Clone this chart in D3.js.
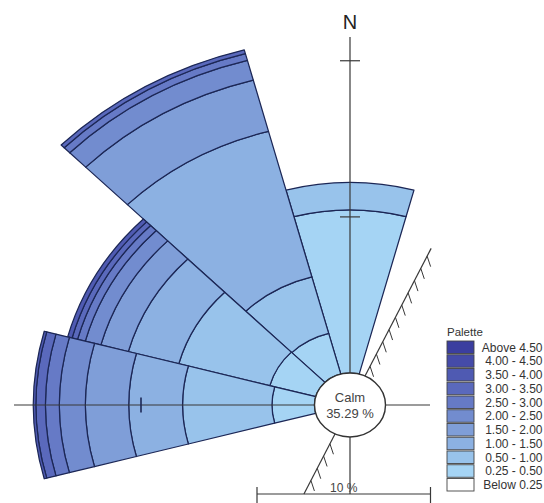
<!DOCTYPE html>
<html>
<head>
<meta charset="utf-8">
<script src="https://cdn.jsdelivr.net/npm/d3@7"></script>
<style>
  body { margin: 0; background: #fff; }
  svg { display: block; }
  text { font-family: "Liberation Sans", Arial, sans-serif; }
</style>
</head>
<body>
<script>
// speed classes, lowest first (m/s)
var speedClasses = ["0.25 - 0.50", "0.50 - 1.00", "1.00 - 1.50", "1.50 - 2.00", "2.00 - 2.50",
                    "2.50 - 3.00", "3.00 - 3.50", "3.50 - 4.00", "4.00 - 4.50", "Above 4.50"];
var classColors = ["#a5d4f4", "#98c3eb", "#8cb1e2", "#7f9ed8", "#728ccf",
                   "#667ac6", "#5a69bc", "#4f5ab2", "#454ba9", "#3b3e9f"];

// sector centres (degrees from north) and frequency (%) of each speed class
var sectorAngles = [0, 330, 300, 270];
var freqN   = [10.45, 1.75];
var freq330 = [2.7, 3.75, 9.65, 3.4, 1.3, 0.45, 0.25];
var freq300 = [2.74, 5.43, 3.01, 1.64, 0.93, 0.46, 0.33, 0.26];
var freqW   = [2.45, 5.15, 3.1, 2.5, 1.5, 0.8, 0.55, 0.15];
var calmPct = 35.29;

var sectorFreqs = [freqN, freq330, freq300, freqW];

var width = 544, height = 503;
var cx = 350, cy = 405, squash = 0.9;
var calmR = 35.5;
var sectorWidth = 30;

var r = d3.scaleLinear().domain([0, 10]).range([calmR, calmR + 173.5]);

var svg = d3.select("body").append("svg")
    .attr("width", width)
    .attr("height", height);

function toScreen(deg, rad) {
  var a = deg * Math.PI / 180;
  return [cx + rad * Math.sin(a), cy - squash * rad * Math.cos(a)];
}

var rose = svg.append("g")
    .attr("transform", "translate(" + cx + "," + cy + ") scale(1," + squash + ")");

var arc = d3.arc()
    .innerRadius(function(d) { return r(d.y0); })
    .outerRadius(function(d) { return r(d.y1); })
    .startAngle(function(d) { return (d.angle - sectorWidth / 2) * Math.PI / 180; })
    .endAngle(function(d) { return (d.angle + sectorWidth / 2) * Math.PI / 180; });

var bands = [];
sectorFreqs.forEach(function(vals, i) {
  var cum = 0;
  vals.forEach(function(v, k) {
    bands.push({angle: sectorAngles[i] > 180 ? sectorAngles[i] - 360 : sectorAngles[i],
                y0: cum, y1: cum + v, cls: k});
    cum += v;
  });
});

rose.selectAll("path.band")
  .data(bands)
  .enter().append("path")
    .attr("class", "band")
    .attr("d", arc)
    .attr("fill", function(d) { return classColors[d.cls]; })
    .attr("stroke", "#1c2756")
    .attr("stroke-width", 1.25)
    .attr("stroke-linejoin", "round")
    .attr("vector-effect", "non-scaling-stroke");

// axes
var axisColor = "#383838";
var axes = [
  {deg: 0, len: 409},
  {deg: 90, len: 80},
  {deg: 180, len: 99},
  {deg: 270, len: 336}
];
axes.forEach(function(a) {
  var p0 = toScreen(a.deg, calmR), p1 = toScreen(a.deg, a.len);
  svg.append("line")
    .attr("x1", p0[0]).attr("y1", p0[1]).attr("x2", p1[0]).attr("y2", p1[1])
    .attr("stroke", axisColor).attr("stroke-width", 1.2);
});

// ring ticks (10 %, 20 %)
[10, 20].forEach(function(p) {
  var y = toScreen(0, r(p))[1];
  svg.append("line")
    .attr("x1", cx - 10).attr("x2", cx + 10).attr("y1", y).attr("y2", y)
    .attr("stroke", axisColor).attr("stroke-width", 1.2);
});
var wx = toScreen(270, r(10))[0];
svg.append("line")
  .attr("x1", wx).attr("x2", wx).attr("y1", cy - 7.5).attr("y2", cy + 7.5)
  .attr("stroke", "#1c2756").attr("stroke-width", 1.6);

// hatched line
var hatchDeg = 25;
[[hatchDeg, 192], [hatchDeg + 180, 109]].forEach(function(h) {
  var p0 = toScreen(h[0], calmR), p1 = toScreen(h[0], h[1]);
  svg.append("line")
    .attr("x1", p0[0]).attr("y1", p0[1]).attr("x2", p1[0]).attr("y2", p1[1])
    .attr("stroke", axisColor).attr("stroke-width", 1.2);
  d3.range(calmR + 12, h[1] - 4, 15).forEach(function(d) {
    var p = toScreen(h[0], d);
    svg.append("line")
      .attr("x1", p[0]).attr("y1", p[1]).attr("x2", p[0] + 3.5).attr("y2", p[1] + 10.5)
      .attr("stroke", axisColor).attr("stroke-width", 1);
  });
});

// calm circle
rose.append("circle")
  .attr("r", calmR)
  .attr("fill", "#fff")
  .attr("stroke", "#333")
  .attr("stroke-width", 1.4)
  .attr("vector-effect", "non-scaling-stroke");

svg.append("text")
  .attr("x", cx).attr("y", 401.5)
  .attr("text-anchor", "middle")
  .attr("font-size", 13).attr("fill", "#444")
  .text("Calm");
svg.append("text")
  .attr("x", cx).attr("y", 417.5)
  .attr("text-anchor", "middle")
  .attr("font-size", 13).attr("fill", "#444")
  .text(calmPct.toFixed(2) + " %");

// north label
svg.append("text")
  .attr("x", cx).attr("y", 29)
  .attr("text-anchor", "middle")
  .attr("font-size", 20).attr("fill", "#222")
  .text("N");

// scale bar
var barX = 257, barY = 494, barLen = r(10) - r(0);
svg.append("line")
  .attr("x1", barX).attr("x2", barX + barLen).attr("y1", barY).attr("y2", barY)
  .attr("stroke", axisColor).attr("stroke-width", 1.2);
[barX, barX + barLen].forEach(function(x) {
  svg.append("line")
    .attr("x1", x).attr("x2", x).attr("y1", barY - 7).attr("y2", barY + 10)
    .attr("stroke", axisColor).attr("stroke-width", 1.2);
});
svg.append("text")
  .attr("x", barX + barLen / 2).attr("y", barY - 2.5)
  .attr("text-anchor", "middle")
  .attr("font-size", 12).attr("fill", "#444")
  .text("10 %");

// legend
var legendLabels = speedClasses.slice().reverse().concat(["Below 0.25"]);
var legendColors = classColors.slice().reverse().concat(["#ffffff"]);
var legend = svg.append("g").attr("transform", "translate(447,341)");
legend.append("text")
  .attr("x", 0).attr("y", -5)
  .attr("font-size", 11.5).attr("fill", "#333")
  .text("Palette");
var rows = legend.selectAll("g.row")
  .data(legendLabels)
  .enter().append("g")
    .attr("class", "row")
    .attr("transform", function(d, i) { return "translate(0," + (i * 13.75) + ")"; });
rows.append("rect")
  .attr("width", 27).attr("height", 12.5)
  .attr("fill", function(d, i) { return legendColors[i]; })
  .attr("stroke", "#444").attr("stroke-width", 0.9);
rows.append("text")
  .attr("x", 95.5).attr("y", 6.25).attr("dy", "0.36em")
  .attr("text-anchor", "end")
  .attr("font-size", 12).attr("fill", "#333")
  .text(function(d) { return d; });
</script>
</body>
</html>
